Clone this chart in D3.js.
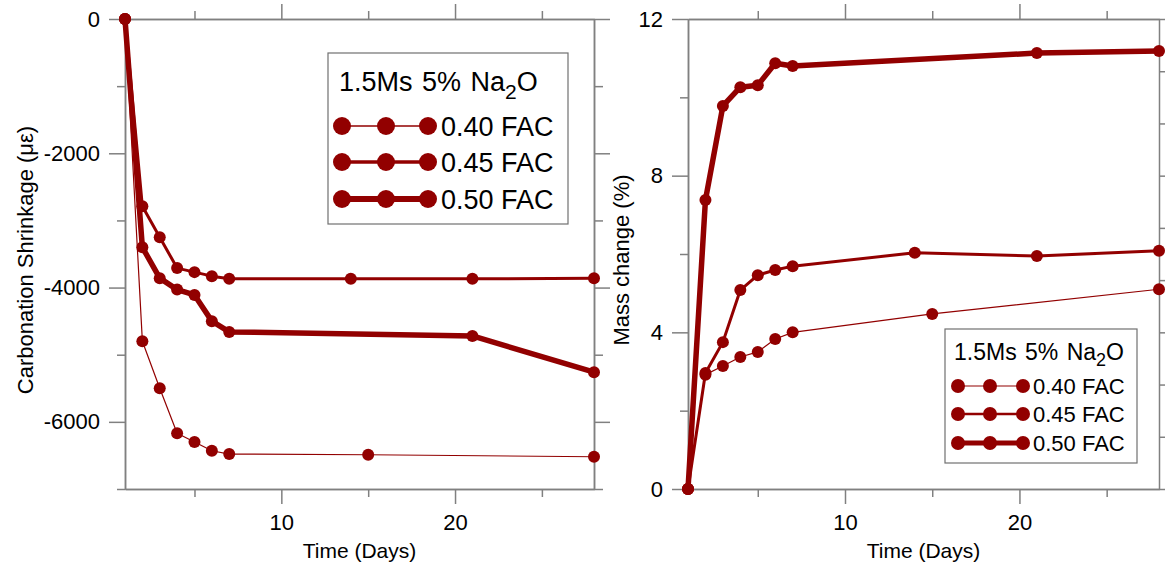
<!DOCTYPE html>
<html>
<head>
<meta charset="utf-8">
<script src="https://cdn.jsdelivr.net/npm/d3@7"></script>
<style>
  body { margin: 0; background: #fff; }
  svg text { font-family: Arial, "Liberation Sans", sans-serif; fill: #000; }
  .axis path, .axis line { stroke: #808080; stroke-width: 1.5; }
</style>
</head>
<body>
<svg id="chart" width="1165" height="567"></svg>
<script>
// ---- data ----
var fac = ['0.40 FAC', '0.45 FAC', '0.50 FAC'];

var shrinkDays040 = [1, 2, 3, 4, 5, 6, 7, 15, 28];
var shrink040 = [0, -4800, -5500, -6170, -6300, -6430, -6480, -6490, -6520];
var shrinkDays045 = [1, 2, 3, 4, 5, 6, 7, 14, 21, 28];
var shrink045 = [0, -2790, -3250, -3710, -3770, -3830, -3870, -3870, -3870, -3860];
var shrinkDays050 = [1, 2, 3, 4, 5, 6, 7, 21, 28];
var shrink050 = [0, -3400, -3860, -4030, -4110, -4500, -4660, -4720, -5260];

var massDays040 = [1, 2, 3, 4, 5, 6, 7, 15, 28];
var mass040 = [0, 2.92, 3.14, 3.37, 3.5, 3.83, 4.0, 4.47, 5.1];
var massDays045 = [1, 2, 3, 4, 5, 6, 7, 14, 21, 28];
var mass045 = [0, 2.96, 3.75, 5.08, 5.46, 5.59, 5.69, 6.03, 5.95, 6.08];
var massDays050 = [1, 2, 3, 4, 5, 6, 7, 21, 28];
var mass050 = [0, 7.38, 9.78, 10.26, 10.31, 10.87, 10.8, 11.13, 11.18];

var xMajor = [10, 20];
var xMinor = [5, 15, 25];
var shrinkMajor = [0, -2000, -4000, -6000];
var shrinkMinor = [-1000, -3000, -5000, -7000];
var massMajor = [0, 4, 8, 12];
var massMinor = [2, 6, 10];

var red = '#920000';
var lineW = [1.2, 3, 5.5];

var svg = d3.select('#chart');

function zip(xs, ys) {
    return xs.map(function(x, i){ return {x: x, y: ys[i]}; });
}

function addAxis(g, axisFn, scale, values, size, labels, transform) {
    var a = axisFn(scale).tickValues(values).tickSize(size).tickSizeOuter(0)
        .tickFormat(labels ? d3.format('d') : '');
    var el = g.append('g').attr('class', 'axis').attr('transform', transform).call(a);
    el.selectAll('text').style('font-size', '22px').attr('fill', '#000');
    return el;
}

function drawPanel(cfg) {
    var g = svg.append('g');
    var x = d3.scaleLinear().domain([1, 28]).range([cfg.left, cfg.right]);
    var y = d3.scaleLinear().domain(cfg.yDomain).range([489, 19]);

    // frame + ticks on all four sides
    addAxis(g, d3.axisBottom, x, xMinor, 8, false, 'translate(0,489)');
    var xb = addAxis(g, d3.axisBottom, x, xMajor, 15, true, 'translate(0,489)');
    xb.selectAll('text').attr('dy', '0.95em').attr('y', 20);
    addAxis(g, d3.axisTop, x, xMinor, 8, false, 'translate(0,19)');
    addAxis(g, d3.axisTop, x, xMajor, 15, false, 'translate(0,19)');

    addAxis(g, d3.axisLeft, y, cfg.yMinor, 8, false, 'translate(' + cfg.left + ',0)');
    var yl = addAxis(g, d3.axisLeft, y, cfg.yMajor, 16, true, 'translate(' + cfg.left + ',0)');
    yl.selectAll('text').attr('x', -25).text(function(d){ return d < 0 ? '-' + Math.abs(d) : d; });

    if (cfg.rightTicks) {
        var yr = d3.scaleLinear().domain([0, cfg.rightTicks.length - 1]).range([489, 19]);
        addAxis(g, d3.axisRight, yr, cfg.rightTicks, 9, false, 'translate(' + cfg.right + ',0)');
    } else {
        addAxis(g, d3.axisRight, y, cfg.yMinor, 9, false, 'translate(' + cfg.right + ',0)');
        addAxis(g, d3.axisRight, y, cfg.yMajor, 16, false, 'translate(' + cfg.right + ',0)');
    }

    // axis titles
    g.append('text')
        .attr('x', (cfg.left + cfg.right) / 2).attr('y', 558)
        .attr('text-anchor', 'middle').style('font-size', '21px')
        .text('Time (Days)');
    g.append('text')
        .attr('transform', 'translate(' + cfg.titleX + ',260) rotate(-90)')
        .attr('text-anchor', 'middle').style('font-size', '22px')
        .text(cfg.yTitle);

    // series
    var line = d3.line().x(function(d){ return x(d.x); }).y(function(d){ return y(d.y); });
    cfg.series.forEach(function(s, i) {
        g.append('path').datum(s)
            .attr('d', line).attr('fill', 'none')
            .attr('stroke', red).attr('stroke-width', lineW[i])
            .attr('stroke-linejoin', 'round');
        g.selectAll('circle.s' + i).data(s).enter().append('circle')
            .attr('class', 's' + i)
            .attr('cx', function(d){ return x(d.x); })
            .attr('cy', function(d){ return y(d.y); })
            .attr('r', 6).attr('fill', red);
    });

    // legend
    var L = cfg.legend;
    var lg = g.append('g');
    lg.append('rect').attr('x', L.x).attr('y', L.y).attr('width', L.w).attr('height', L.h)
        .attr('fill', '#fff').attr('stroke', '#707070').attr('stroke-width', 1.2);
    var title = lg.append('text').attr('x', L.tx).attr('y', L.ty)
        .style('font-size', L.titleFont + 'px').attr('word-spacing', '2px');
    title.append('tspan').text('1.5Ms 5% Na');
    title.append('tspan').attr('dy', L.titleFont * 0.28).style('font-size', (L.titleFont * 0.78) + 'px').text('2');
    title.append('tspan').attr('dy', -L.titleFont * 0.28).text('O');
    fac.forEach(function(name, i) {
        var ry = L.rows[i];
        lg.append('line').attr('x1', L.mx[0]).attr('x2', L.mx[2]).attr('y1', ry).attr('y2', ry)
            .attr('stroke', red).attr('stroke-width', lineW[i] * L.lw);
        L.mx.forEach(function(mx) {
            lg.append('circle').attr('cx', mx).attr('cy', ry).attr('r', L.r).attr('fill', red);
        });
        lg.append('text').attr('x', L.textX).attr('y', ry + L.font * 0.36)
            .style('font-size', L.font + 'px').text(name);
    });
}

drawPanel({
    left: 125, right: 594,
    yDomain: [-7000, 0], yMajor: shrinkMajor, yMinor: shrinkMinor,
    titleX: 33, yTitle: 'Carbonation Shrinkage (με)',
    series: [zip(shrinkDays040, shrink040), zip(shrinkDays045, shrink045), zip(shrinkDays050, shrink050)],
    legend: {x: 328, y: 53, w: 240, h: 171, tx: 339, ty: 91, titleFont: 27,
             rows: [126, 162, 199], mx: [342, 386, 428], r: 9, lw: 1.1, textX: 441, font: 27}
});

drawPanel({
    left: 688, right: 1159,
    yDomain: [0, 12], yMajor: massMajor, yMinor: massMinor,
    rightTicks: [0, 1, 2, 3, 4, 5, 6, 7, 8, 9],
    titleX: 629, yTitle: 'Mass change (%)',
    series: [zip(massDays040, mass040), zip(massDays045, mass045), zip(massDays050, mass050)],
    legend: {x: 945, y: 329, w: 192, h: 134, tx: 954, ty: 360, titleFont: 23,
             rows: [386, 414, 443], mx: [958, 990, 1023], r: 7, lw: 0.9, textX: 1033, font: 22}
});
</script>
</body>
</html>
